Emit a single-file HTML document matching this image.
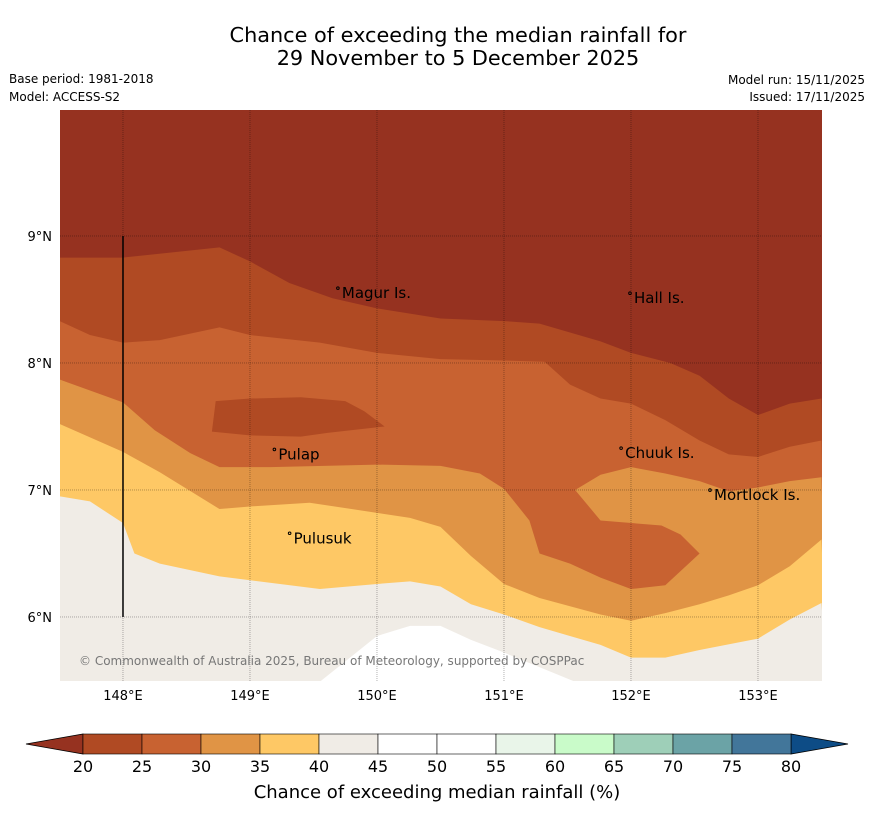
<!DOCTYPE html>
<html><head><meta charset="utf-8">
<style>
body{margin:0;background:#fff;font-family:"Liberation Sans","DejaVu Sans",sans-serif;}
svg text{font-family:"DejaVu Sans","Liberation Sans",sans-serif;}
</style></head>
<body>
<svg id="chart" width="873" height="816" xmlns="http://www.w3.org/2000/svg">
<text x="458" y="42" font-size="20.8" text-anchor="middle">Chance of exceeding the median rainfall for</text>
<text x="458" y="65" font-size="20.8" text-anchor="middle">29 November to 5 December 2025</text>
<text x="9" y="83" font-size="12">Base period: 1981-2018</text>
<text x="9" y="101" font-size="12">Model: ACCESS-S2</text>
<text x="865" y="84" font-size="12" text-anchor="end">Model run: 15/11/2025</text>
<text x="865" y="101" font-size="12" text-anchor="end">Issued: 17/11/2025</text>
<defs><clipPath id="mapclip"><rect x="60" y="110" width="762" height="571"/></clipPath></defs>
<g id="map" clip-path="url(#mapclip)"></g>
<g id="overlay"></g>
<g id="cbar"></g>
<text x="437" y="798" font-size="18" text-anchor="middle">Chance of exceeding median rainfall (%)</text>
</svg>
<script>
// Map extent (degrees)
const lonMin = 147.504, lonMax = 153.504, latMin = 5.496, latMax = 9.992;
const lonTicks = [148,149,150,151,152,153];
const latTicks = [6,7,8,9];
// Colorbar categories
const cbarLevels = [20,25,30,35,40,45,50,55,60,65,70,75,80];
const cbarColors = ["#b04a23","#c86231","#e09445","#fec865","#f0ece6","#ffffff","#ffffff","#e9f5e9","#c9fbc9","#9ecfb8","#6ba3a6","#42769a"];
const extendLow = "#963220", extendHigh = "#0d4c86";
// Contour boundaries as [lon,lat] (region below each line gets the color)
const line20 = [[147.5,8.83],[148,8.83],[148.76,8.91],[149,8.8],[149.31,8.63],[149.65,8.51],[150,8.43],[150.5,8.35],[151,8.33],[151.28,8.31],[151.76,8.17],[152,8.08],[152.31,8.0],[152.54,7.9],[152.77,7.72],[153,7.59],[153.25,7.68],[153.5,7.72]];
const line25 = [[147.5,8.33],[147.74,8.22],[148,8.16],[148.29,8.18],[148.76,8.28],[149,8.22],[149.55,8.16],[150,8.08],[150.5,8.03],[151,8.02],[151.32,8.01],[151.52,7.83],[151.76,7.72],[152,7.68],[152.27,7.55],[152.54,7.39],[152.77,7.28],[153,7.26],[153.25,7.34],[153.5,7.39]];
const line30 = [[147.5,7.87],[148,7.69],[148.25,7.47],[148.53,7.29],[148.76,7.18],[149.16,7.18],[150,7.2],[150.5,7.19],[150.81,7.13],[151,7.01],[151.2,6.76],[151.28,6.5],[151.52,6.42],[151.76,6.31],[152,6.22],[152.27,6.25],[152.54,6.5],[152.39,6.65],[152.24,6.72],[151.76,6.76],[151.56,7.0],[151.76,7.12],[152,7.18],[152.27,7.13],[152.54,7.07],[152.77,6.99],[153,7.02],[153.25,7.07],[153.5,7.1]];
const line35 = [[147.5,7.52],[148,7.3],[148.29,7.14],[148.76,6.85],[149,6.87],[149.47,6.9],[150,6.82],[150.26,6.78],[150.5,6.71],[150.74,6.48],[151,6.26],[151.28,6.15],[151.76,6.02],[152,5.97],[152.27,6.03],[152.54,6.1],[152.77,6.17],[153,6.25],[153.25,6.4],[153.5,6.61]];
const line40 = [[147.5,6.95],[147.74,6.91],[148,6.74],[148.09,6.5],[148.29,6.42],[148.76,6.32],[149.55,6.22],[150,6.26],[150.26,6.28],[150.5,6.24],[150.74,6.1],[151,6.02],[151.28,5.92],[151.76,5.78],[152,5.68],[152.27,5.68],[152.54,5.74],[153,5.83],[153.25,5.98],[153.5,6.11]];
const whitePatch = [[149.55,5.49],[150,5.85],[150.26,5.93],[150.5,5.93],[150.74,5.82],[151,5.72],[151.56,5.49]];
const patch20 = [[148.73,7.7],[149,7.72],[149.4,7.73],[149.75,7.7],[149.9,7.62],[150.06,7.5],[149.61,7.45],[149.4,7.42],[149,7.43],[148.7,7.46]];
const places = [["Magur Is.",149.7,8.55],["Hall Is.",152.0,8.51],["Pulap",149.2,7.28],["Chuuk Is.",151.93,7.29],["Mortlock Is.",152.63,6.96],["Pulusuk",149.32,6.62]];

const X0=60,X1=822,Y0=110,Y1=681;
const xS = lon => X0+(lon-lonMin)/(lonMax-lonMin)*(X1-X0);
const yS = lat => Y0+(latMax-lat)/(latMax-latMin)*(Y1-Y0);
const NS="http://www.w3.org/2000/svg";
function mk(tag,attrs,parent){const e=document.createElementNS(NS,tag);for(const k in attrs)e.setAttribute(k,attrs[k]);parent.appendChild(e);return e;}
const map=document.getElementById('map');
const bg=mk('rect',{x:X0,y:Y0,width:X1-X0,height:Y1-Y0,fill:extendLow},map);


function band(line,color,name){
  let d="M"+xS(line[0][0])+","+yS(line[0][1]);
  line.forEach(p=>{d+=" L"+xS(p[0])+","+yS(p[1]);});
  d+=" L"+(X1+5)+","+(Y1+5)+" L"+(X0-5)+","+(Y1+5)+" Z";
  const p=mk('path',{d:d,fill:color},map);
  
  
}
function poly(pts,color,name){
  const p=mk('polygon',{points:pts.map(q=>xS(q[0])+","+yS(q[1])).join(" "),fill:color},map);
  
  
}
band(line20,cbarColors[0],'region-20-25');
band(line25,cbarColors[1],'region-25-30');
poly(patch20,cbarColors[0],'region-20-25-patch');
band(line30,cbarColors[2],'region-30-35');
band(line35,cbarColors[3],'region-35-40');
band(line40,cbarColors[4],'region-40-45');
poly(whitePatch,"#ffffff",'region-45-50');
// grid
lonTicks.forEach(l=>{
  const g=mk('line',{x1:xS(l),x2:xS(l),y1:Y0,y2:Y1,stroke:"#000","stroke-width":0.5,"stroke-dasharray":"1,1","stroke-opacity":0.6},map);
  
  
  const t=mk('text',{x:xS(l),y:700,"font-size":13,"text-anchor":"middle"},document.getElementById('overlay'));
  t.textContent=l+"°E";
  
  
});
latTicks.forEach(l=>{
  const g=mk('line',{x1:X0,x2:X1,y1:yS(l),y2:yS(l),stroke:"#000","stroke-width":0.5,"stroke-dasharray":"1,1","stroke-opacity":0.6},map);
  
  
  const t=mk('text',{x:52,y:yS(l)+5,"font-size":13,"text-anchor":"end"},document.getElementById('overlay'));
  t.textContent=l+"°N";
  
  
});
const vl=mk('line',{x1:xS(148),x2:xS(148),y1:yS(9),y2:yS(6),stroke:"#000","stroke-width":1.5},map);


places.forEach(p=>{
  const t=mk('text',{x:xS(p[1])+3,y:yS(p[2])+5,"font-size":15},map);
  t.textContent=p[0];
  
  
  const m=mk('circle',{cx:xS(p[1])-1,cy:yS(p[2])-5,r:1.3,fill:"none",stroke:"#000","stroke-width":1},map);
  
  
});
const cp=mk('text',{x:79,y:665,"font-size":12,fill:"#777"},map);
cp.textContent="© Commonwealth of Australia 2025, Bureau of Meteorology, supported by COSPPac";


// colorbar
const cb=document.getElementById('cbar');
const CB0=83,CB1=791,CBY=734,CBH=20;
const cx=v=>CB0+(v-cbarLevels[0])/(cbarLevels[cbarLevels.length-1]-cbarLevels[0])*(CB1-CB0);
const lt=mk('polygon',{points:`26,${CBY+CBH/2} ${CB0},${CBY} ${CB0},${CBY+CBH}`,fill:extendLow,stroke:"#000","stroke-width":0.8},cb);


const rt=mk('polygon',{points:`848,${CBY+CBH/2} ${CB1},${CBY} ${CB1},${CBY+CBH}`,fill:extendHigh,stroke:"#000","stroke-width":0.8},cb);


cbarColors.forEach((c,i)=>{
  const r=mk('rect',{x:cx(cbarLevels[i]),y:CBY,width:cx(cbarLevels[i+1])-cx(cbarLevels[i]),height:CBH,fill:c,stroke:"#000","stroke-width":0.6},cb);
  
  
});
cbarLevels.forEach(v=>{
  const t=mk('text',{x:cx(v),y:772,"font-size":16,"text-anchor":"middle"},cb);
  t.textContent=v;
  
  
});
</script>
</body></html>
